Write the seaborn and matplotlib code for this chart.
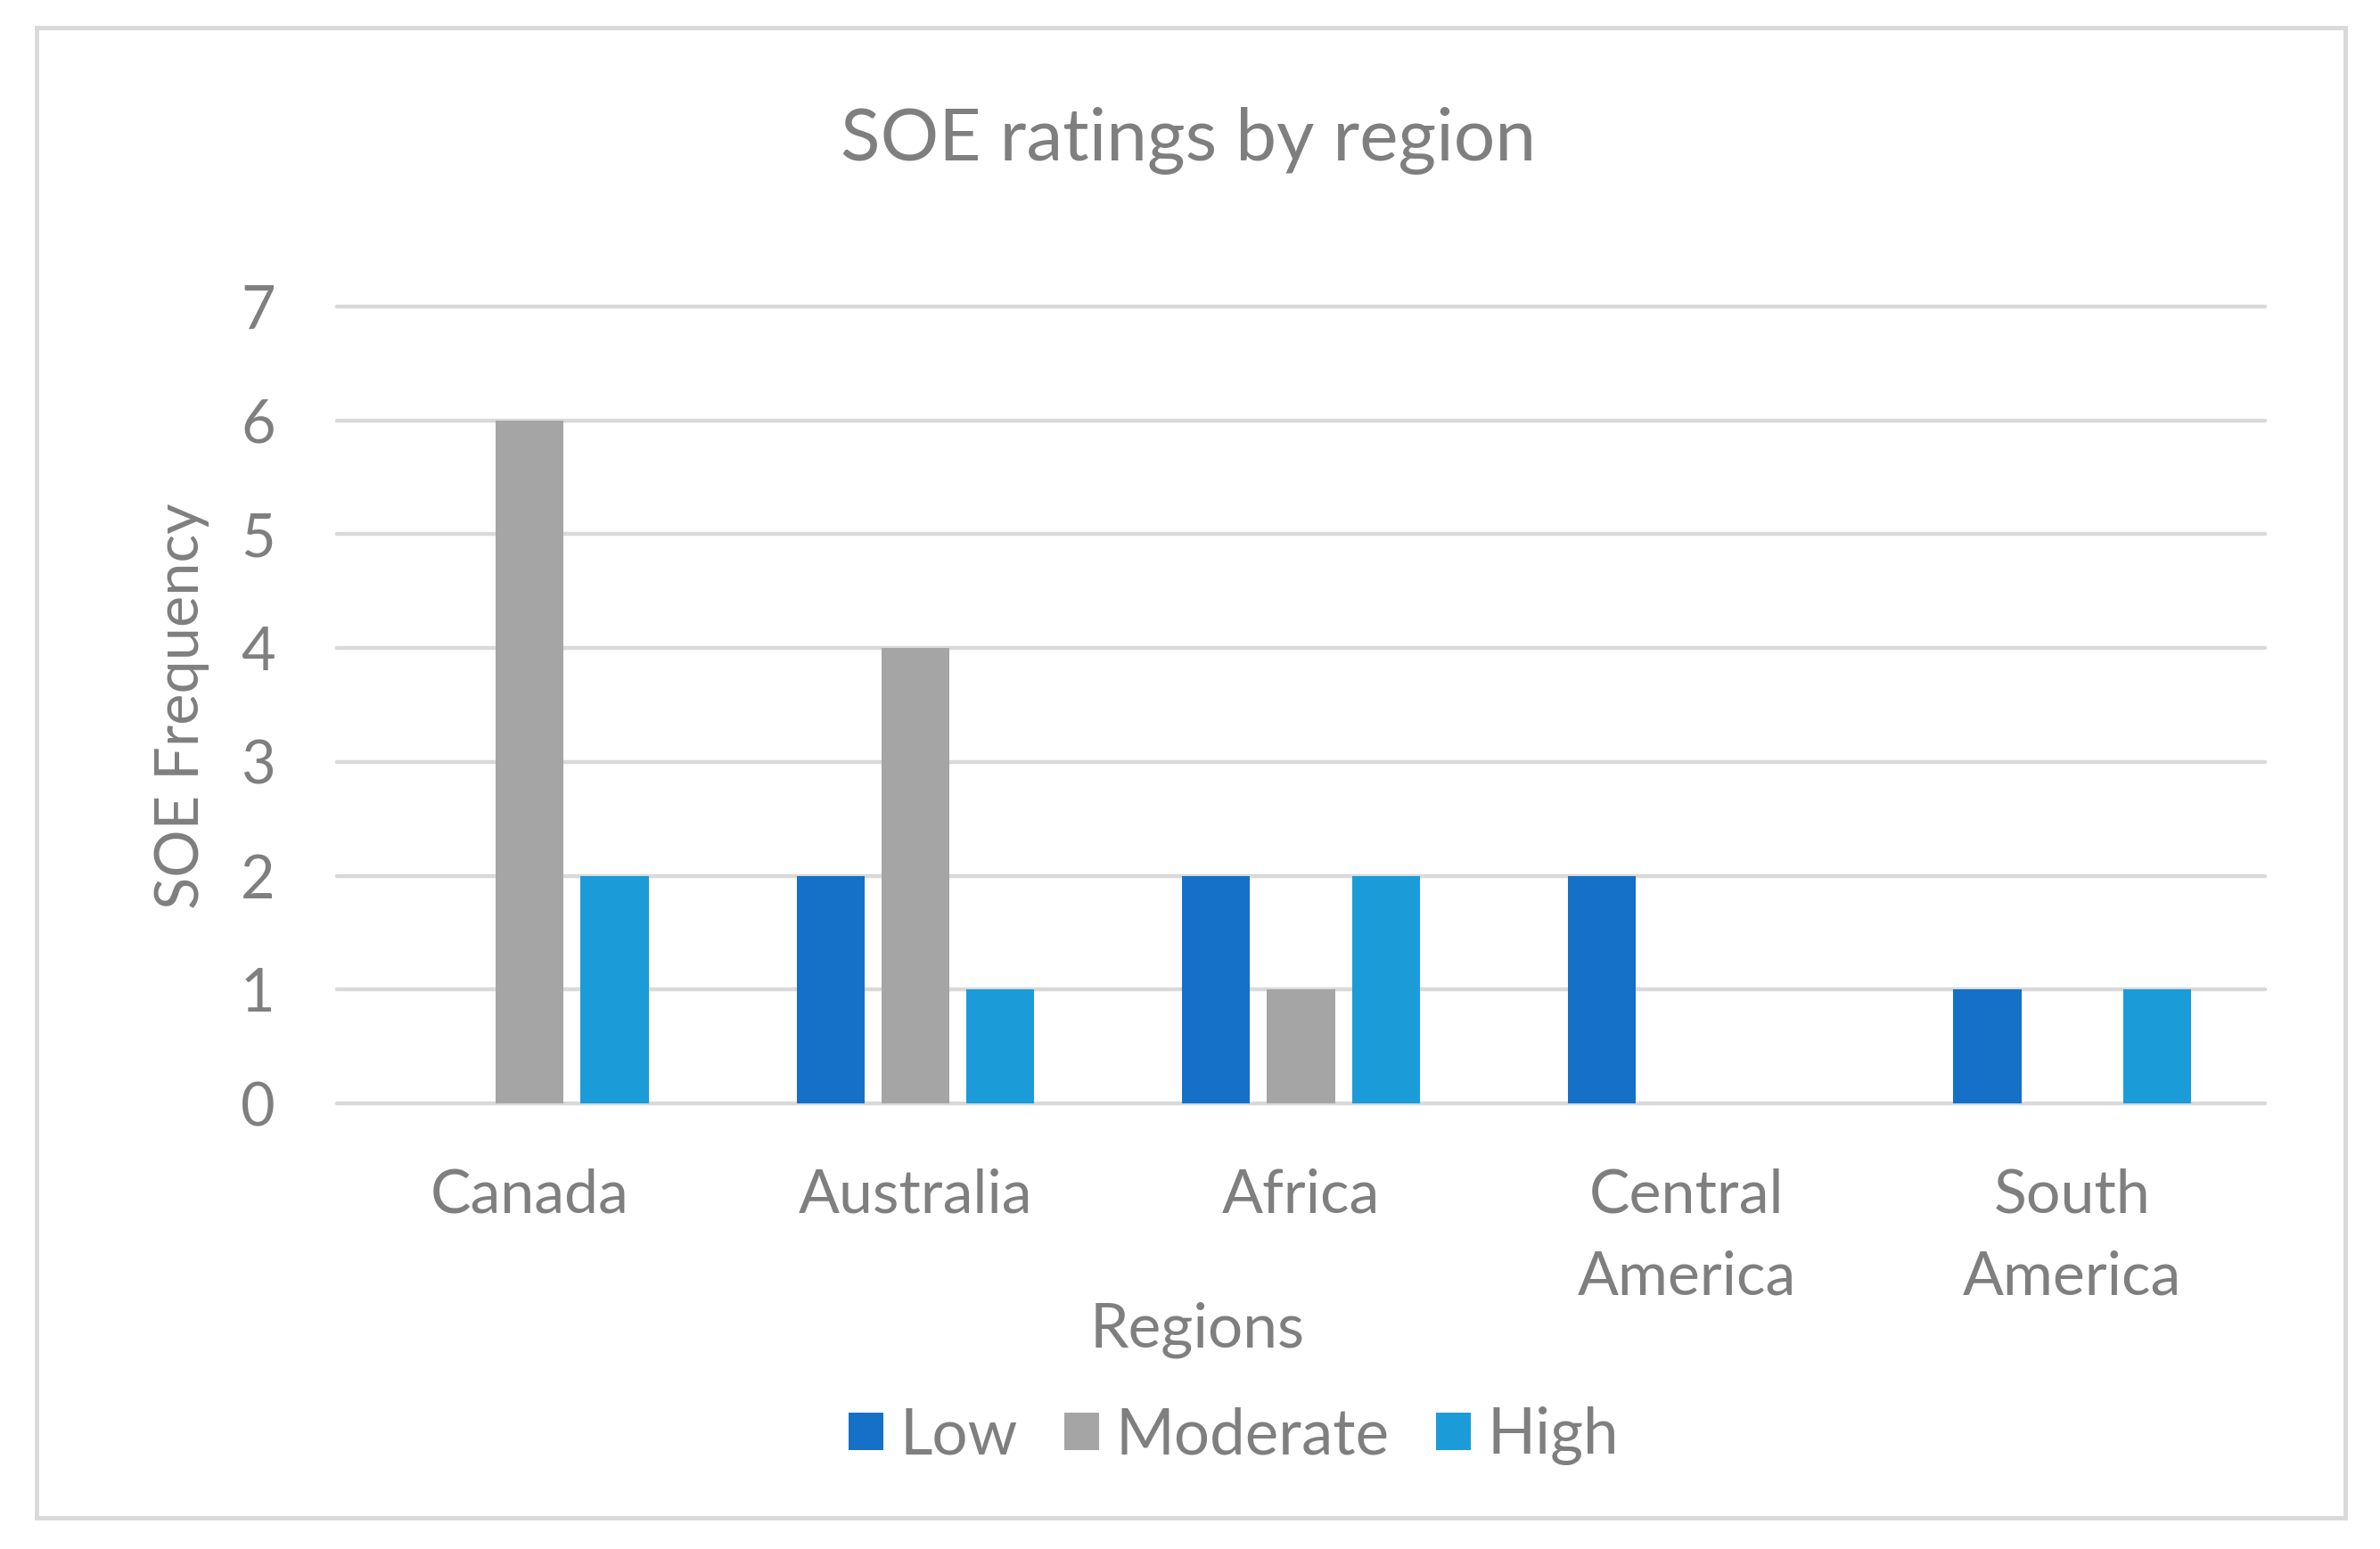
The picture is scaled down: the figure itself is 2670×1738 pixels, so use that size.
import matplotlib
matplotlib.use("Agg")
import matplotlib.pyplot as plt
import seaborn as sns
import pandas as pd
from matplotlib.patches import Rectangle

# ---- data ----
regions = ["Canada", "Australia", "Africa", "Central\nAmerica", "South\nAmerica"]
ratings = ["Low", "Moderate", "High"]
low = [0, 2, 2, 2, 1]
moderate = [6, 4, 1, 0, 0]
high = [2, 1, 2, 0, 1]
yticks = [0, 1, 2, 3, 4, 5, 6, 7]
colors = ["#1570C8", "#A5A5A5", "#1B9CD8"]

rows = []
for r, a, b, c in zip(regions, low, moderate, high):
    rows.append((r, "Low", a))
    rows.append((r, "Moderate", b))
    rows.append((r, "High", c))
df = pd.DataFrame(rows, columns=["Region", "Rating", "Frequency"])

sns.set_theme(style="white")
plt.rcParams["font.family"] = ["Lato", "DejaVu Sans"]
TXT = "#7F7F7F"

W, H = 2670, 1738
fig = plt.figure(figsize=(W / 100, H / 100), dpi=100)
fig.patch.set_facecolor("white")

# outer border
fig.add_artist(Rectangle((41 / W, 1 - 1703 / H), (2631 - 41) / W, (1703 - 31) / H,
                         transform=fig.transFigure, fill=False,
                         edgecolor="#D9D9D9", linewidth=3.5))

ax = fig.add_axes([378 / W, 1 - 1238 / H, (2541 - 378) / W, (1238 - 344) / H])
sns.barplot(data=df, x="Region", y="Frequency", hue="Rating", order=regions,
            hue_order=ratings, palette=colors, width=0.66, gap=0.2,
            saturation=1, linewidth=0, ax=ax)

ax.set_xlim(-0.5, 4.5)
ax.set_ylim(0, 7)
ax.set_yticks(yticks)
ax.yaxis.grid(True, color="#D9D9D9", linewidth=3.2)
for gl in ax.get_ygridlines():
    gl.set_clip_on(False)
ax.set_axisbelow(True)
for s in ax.spines.values():
    s.set_visible(False)
ax.tick_params(axis="y", length=0, labelsize=48, labelcolor=TXT, pad=50)
ax.tick_params(axis="x", length=0, labelsize=49, labelcolor=TXT, pad=52)
for lab in ax.get_xticklabels():
    lab.set_linespacing(1.6)
ax.set_xlabel("")
ax.set_ylabel("")

handles, labels = ax.get_legend_handles_labels()
if ax.get_legend() is not None:
    ax.get_legend().remove()

fig.text(1333 / W, 1 - 158 / H, "SOE ratings by region", ha="center", va="center",
         fontsize=59, color=TXT)
fig.text(1343 / W, 1 - 1492 / H, "Regions", ha="center", va="center",
         fontsize=50, color=TXT)
fig.text(204 / W, 1 - 792 / H, "SOE Frequency", ha="center", va="center",
         rotation=90, fontsize=48, color=TXT)

leg = fig.legend(handles, labels, loc="center", bbox_to_anchor=(1384 / W, 1 - 1611 / H),
                 ncol=3, frameon=False, fontsize=51, handlelength=0.55, handleheight=0.55,
                 handletextpad=0.25, columnspacing=0.75)
for t in leg.get_texts():
    t.set_color(TXT)

fig.savefig("out.png", dpi=100, facecolor="white")
